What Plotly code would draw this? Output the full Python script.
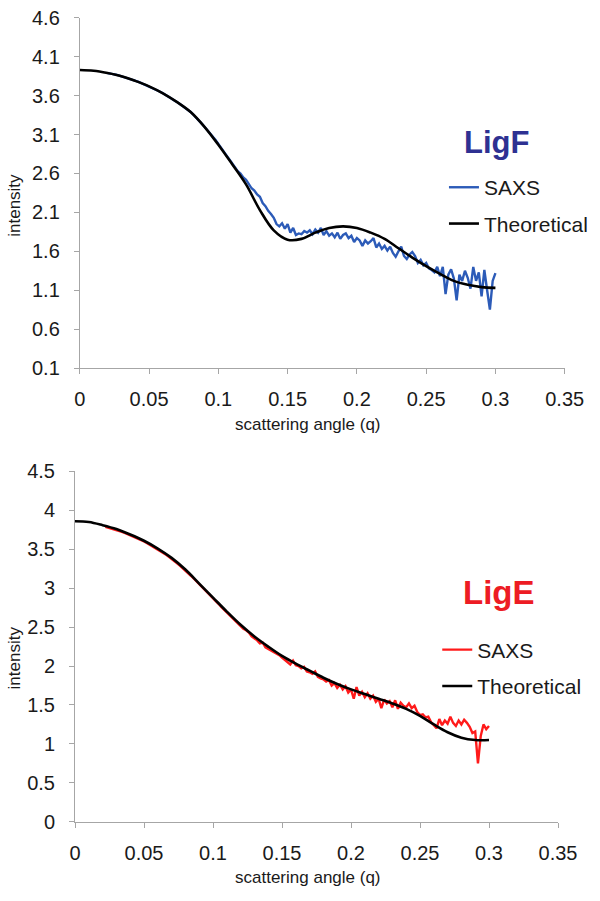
import numpy as np
import plotly.graph_objects as go

# ---- LigF (top panel) ----
q_theory = [0.00, 0.01, 0.02, 0.03, 0.04, 0.05, 0.06, 0.07, 0.08, 0.09, 0.10,
            0.11, 0.12, 0.13, 0.14, 0.15, 0.16, 0.17, 0.18, 0.19, 0.20,
            0.21, 0.22, 0.23, 0.24, 0.25, 0.26, 0.27, 0.28, 0.29, 0.30]
ligf_theory = [3.93, 3.92, 3.89, 3.85, 3.79, 3.72, 3.63, 3.52, 3.39, 3.20, 2.97,
               2.72, 2.46, 2.13, 1.87, 1.75, 1.76, 1.84, 1.90, 1.92, 1.90,
               1.84, 1.76, 1.64, 1.52, 1.41, 1.31, 1.22, 1.17, 1.14, 1.13]

q_ligf_saxs = np.round(np.arange(0.020, 0.3001, 0.002), 3)
ligf_saxs = [
    3.89, 3.885, 3.88, 3.87, 3.86, 3.85, 3.84, 3.83, 3.82, 3.80,
    3.79, 3.78, 3.765, 3.75, 3.735, 3.72, 3.70, 3.685, 3.67, 3.65,
    3.63, 3.61, 3.59, 3.565, 3.545, 3.52, 3.495, 3.47, 3.44, 3.415,
    3.39, 3.355, 3.32, 3.28, 3.24, 3.20, 3.16, 3.115, 3.07, 3.03,
    2.98, 2.935, 2.885, 2.83, 2.78, 2.73, 2.67, 2.63, 2.60, 2.55,
    2.52, 2.47, 2.41, 2.38, 2.33, 2.30, 2.22, 2.18, 2.12, 2.08,
    2.03, 1.95, 1.92, 1.96, 1.89, 1.95, 1.84, 1.90, 1.81, 1.83,
    1.82, 1.86, 1.84, 1.87, 1.82, 1.88, 1.84, 1.90, 1.81, 1.86,
    1.80, 1.83, 1.78, 1.84, 1.76, 1.81, 1.83, 1.77, 1.80, 1.72,
    1.77, 1.74, 1.67, 1.74, 1.70, 1.73, 1.77, 1.65, 1.70, 1.63,
    1.67, 1.61, 1.66, 1.58, 1.53, 1.60, 1.66, 1.54, 1.50, 1.56,
    1.59, 1.54, 1.45, 1.49, 1.42, 1.45, 1.38, 1.36, 1.33, 1.40,
    1.28, 1.40, 1.05, 1.30, 1.37, 1.25, 0.97, 1.30, 1.22, 1.35,
    1.26, 1.12, 1.40, 1.22, 1.33, 1.02, 1.36, 1.10, 0.85, 1.22,
    1.32]

# ---- LigE (bottom panel) ----
lige_theory = [3.86, 3.85, 3.81, 3.76, 3.69, 3.61, 3.51, 3.39, 3.24, 3.06, 2.88,
               2.70, 2.53, 2.38, 2.25, 2.13, 2.03, 1.94, 1.85, 1.77, 1.70,
               1.64, 1.58, 1.52, 1.45, 1.36, 1.25, 1.15, 1.08, 1.05, 1.05]

q_lige_saxs = np.round(np.arange(0.022, 0.3001, 0.002), 3)
lige_saxs = [
    3.79, 3.78, 3.77, 3.76, 3.75, 3.74, 3.725, 3.71, 3.695, 3.68,
    3.665, 3.65, 3.635, 3.62, 3.60, 3.58, 3.56, 3.54, 3.52, 3.50,
    3.475, 3.45, 3.43, 3.405, 3.38, 3.35, 3.32, 3.29, 3.26, 3.23,
    3.195, 3.16, 3.125, 3.09, 3.05, 3.015, 2.98, 2.94, 2.905, 2.87,
    2.835, 2.80, 2.76, 2.725, 2.69, 2.655, 2.62, 2.585, 2.55, 2.52,
    2.48, 2.46, 2.43, 2.38, 2.36, 2.33, 2.29, 2.30, 2.24, 2.22,
    2.21, 2.18, 2.17, 2.14, 2.11, 2.08, 2.05, 2.02, 2.07, 2.01,
    2.00, 1.97, 1.99, 1.93, 1.92, 1.90, 1.93, 1.86, 1.84, 1.83,
    1.80, 1.82, 1.75, 1.78, 1.72, 1.76, 1.70, 1.74, 1.66, 1.70,
    1.58, 1.73, 1.62, 1.67, 1.60, 1.65, 1.58, 1.62, 1.54, 1.58,
    1.46, 1.57, 1.52, 1.55, 1.47, 1.56, 1.45, 1.53, 1.49, 1.47,
    1.52, 1.46, 1.49, 1.41, 1.37, 1.38, 1.34, 1.35, 1.28, 1.24,
    1.20, 1.32, 1.24, 1.30, 1.26, 1.35, 1.27, 1.23, 1.30, 1.25,
    1.31, 1.27, 1.22, 1.14, 1.16, 0.75, 1.10, 1.25, 1.19, 1.23]

x_ticks = [0, 0.05, 0.1, 0.15, 0.2, 0.25, 0.3, 0.35]
x_tick_text = ['0', '0.05', '0.1', '0.15', '0.2', '0.25', '0.3', '0.35']
ligf_y_ticks = [0.1, 0.6, 1.1, 1.6, 2.1, 2.6, 3.1, 3.6, 4.1, 4.6]
ligf_y_text = ['0.1', '0.6', '1.1', '1.6', '2.1', '2.6', '3.1', '3.6', '4.1', '4.6']
lige_y_ticks = [0, 0.5, 1, 1.5, 2, 2.5, 3, 3.5, 4, 4.5]
lige_y_text = ['0', '0.5', '1', '1.5', '2', '2.5', '3', '3.5', '4', '4.5']

W, H = 600, 901
FONT = 'Arial, Liberation Sans, sans-serif'
AXIS_GREY = '#A6A6A6'
BLUE = '#2C5BB8'
RED = '#FF1A1A'

fig = go.Figure()
fig.add_trace(go.Scatter(x=q_ligf_saxs, y=ligf_saxs, mode='lines', name='SAXS',
                         line=dict(color=BLUE, width=2.4), xaxis='x', yaxis='y',
                         legend='legend', legendgroup='a'))
fig.add_trace(go.Scatter(x=q_theory, y=ligf_theory, mode='lines', name='Theoretical',
                         line=dict(color='black', width=2.6, shape='spline'),
                         xaxis='x', yaxis='y', legend='legend', legendgroup='b'))
fig.add_trace(go.Scatter(x=q_lige_saxs, y=lige_saxs, mode='lines', name='SAXS',
                         line=dict(color=RED, width=2.4), xaxis='x2', yaxis='y2',
                         legend='legend2', legendgroup='c'))
fig.add_trace(go.Scatter(x=q_theory, y=lige_theory, mode='lines', name='Theoretical',
                         line=dict(color='black', width=2.6, shape='spline'),
                         xaxis='x2', yaxis='y2', legend='legend2', legendgroup='d'))


def px_x(v):
    return v / W


def px_y(v):
    return (H - v) / H


axis_common = dict(showline=True, linecolor=AXIS_GREY, linewidth=1, ticks='outside',
                   ticklen=5, tickcolor=AXIS_GREY, showgrid=False, zeroline=False,
                   tickfont=dict(size=20, color='#1a1a1a'), fixedrange=True)

legend_common = dict(font=dict(size=21, color='#1a1a1a'), bgcolor='rgba(0,0,0,0)',
                     itemwidth=30, tracegroupgap=6, xanchor='left', yanchor='top',
                     traceorder='grouped')

fig.update_layout(
    width=W, height=H,
    margin=dict(l=0, r=0, t=0, b=0),
    paper_bgcolor='white', plot_bgcolor='white',
    font=dict(family=FONT, color='#1a1a1a'),
    xaxis=dict(axis_common, domain=[px_x(77), px_x(583)], range=[0, 0.35],
               tickvals=x_ticks, ticktext=x_tick_text, anchor='y',
               ticklabelstandoff=8),
    yaxis=dict(axis_common, domain=[px_y(366), px_y(7)], range=[0.1, 4.6],
               tickvals=ligf_y_ticks, ticktext=ligf_y_text, anchor='x',
               ticklabelstandoff=10),
    xaxis2=dict(axis_common, domain=[px_x(72), px_x(576)], range=[0, 0.35],
                tickvals=x_ticks, ticktext=x_tick_text, anchor='y2',
                ticklabelstandoff=8),
    yaxis2=dict(axis_common, domain=[px_y(831), px_y(472)], range=[0, 4.5],
                tickvals=lige_y_ticks, ticktext=lige_y_text, anchor='x2',
                ticklabelstandoff=10),
    legend=dict(legend_common, x=px_x(457), y=px_y(160)),
    legend2=dict(legend_common, x=px_x(450), y=px_y(634)),
    annotations=[
        dict(text='<b>LigF</b>', x=px_x(476), y=px_y(135), xref='paper', yref='paper',
             xanchor='left', yanchor='middle', showarrow=False,
             font=dict(size=31, color='#2E3192')),
        dict(text='<b>LigE</b>', x=px_x(475), y=px_y(596), xref='paper', yref='paper',
             xanchor='left', yanchor='middle', showarrow=False,
             font=dict(size=33, color='#ED1C24')),
        dict(text='scattering angle (q)', x=px_x(315), y=px_y(424), xref='paper',
             yref='paper', xanchor='center', yanchor='middle', showarrow=False,
             font=dict(size=17)),
        dict(text='scattering angle (q)', x=px_x(315), y=px_y(888), xref='paper',
             yref='paper', xanchor='center', yanchor='middle', showarrow=False,
             font=dict(size=17)),
        dict(text='intensity', x=px_x(9), y=px_y(199), xref='paper', yref='paper',
             xanchor='center', yanchor='middle', showarrow=False, textangle=-90,
             font=dict(size=17)),
        dict(text='intensity', x=px_x(9), y=px_y(663), xref='paper', yref='paper',
             xanchor='center', yanchor='middle', showarrow=False, textangle=-90,
             font=dict(size=17)),
    ],
)

# drop the default page margin so the figure sits at the window's top-left corner
fig.write_html('out.html',
               config={'displayModeBar': False},
               post_script="document.body.style.margin='0';"
                           "document.body.style.overflow='hidden';")
